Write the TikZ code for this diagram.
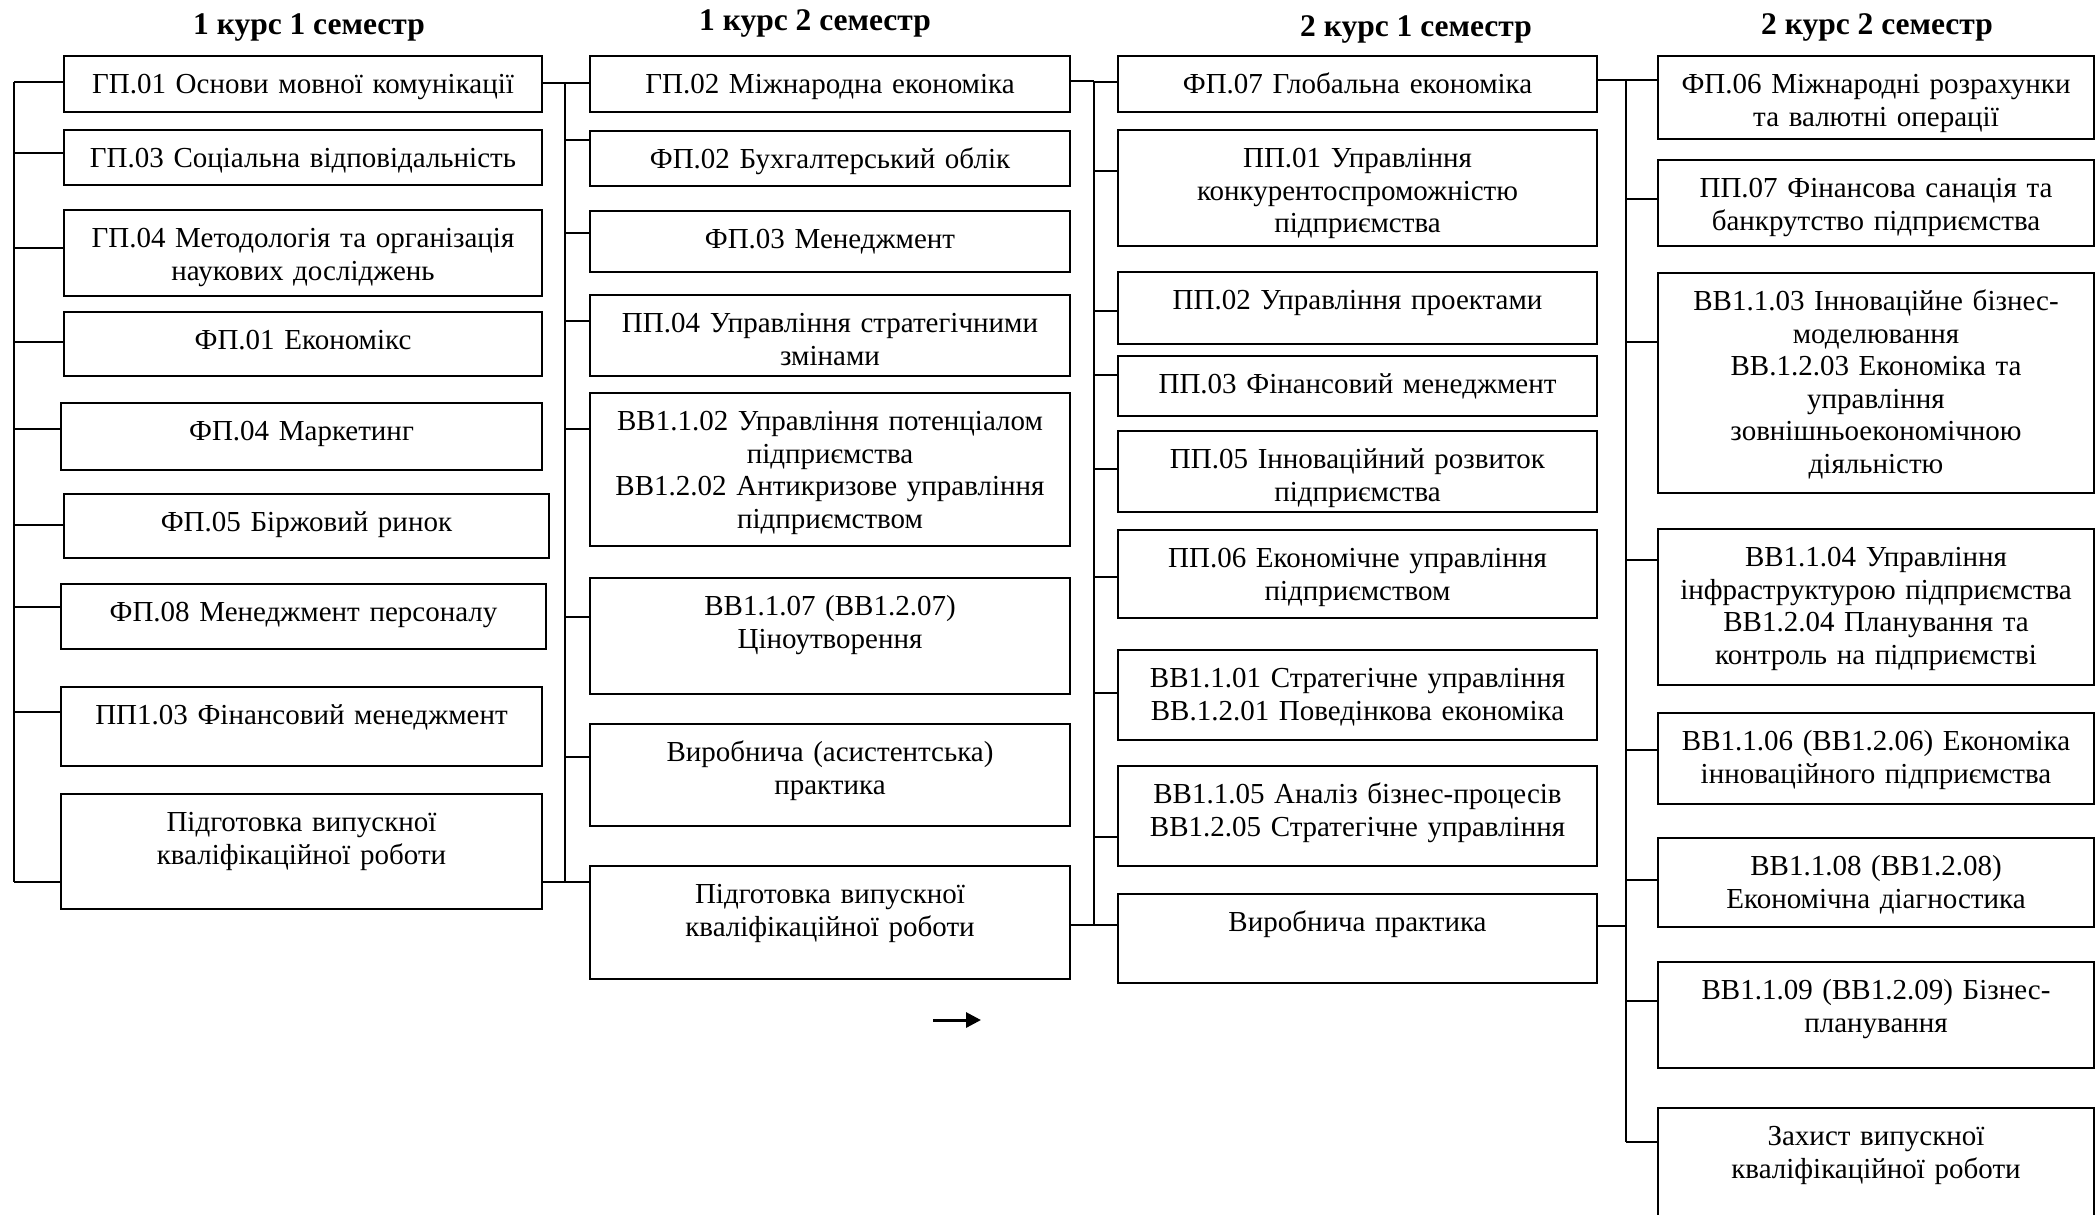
\documentclass[tikz,border=0pt]{standalone}
\usepackage{fontspec}
\setmainfont{Liberation Serif}
\usepackage{tikz}
\usetikzlibrary{arrows.meta}
\tikzset{
  subject box/.style 2 args={draw,line width=0.8pt,inner sep=0pt,anchor=north west,
    text width=#1*0.4pt,align=center,text height=15pt,text depth=#2*0.4pt-15pt,
    font=\fontsize{11.6}{13}\selectfont},
  sem title/.style={font=\fontsize{12.6}{14}\selectfont\bfseries},
  bus line/.style={line width=0.7pt},
}

\begin{document}
\begin{tikzpicture}[x=0.4pt,y=-0.4pt]
    \useasboundingbox (0,0) rectangle (2096,1214);
    \fill[white] (0,0) rectangle (2096,1214);

    % semesters
    \node[sem title] (t11) at (309,27) {1 курс 1 семестр};
    \node[sem title] (t12) at (815,23) {1 курс 2 семестр};
    \node[sem title] (t21) at (1416,29) {2 курс 1 семестр};
    \node[sem title] (t22) at (1877,27) {2 курс 2 семестр};

    % 1 kurs 1 semestr
    \node[subject box={478}{56}] (gp01) at (63,55) {ГП.01 Основи мовної комунікації};
    \node[subject box={478}{55}] (gp03) at (63,129) {ГП.03 Соціальна відповідальність};
    \node[subject box={478}{86}] (gp04) at (63,209) {ГП.04 Методологія та організація\\наукових досліджень};
    \node[subject box={478}{64}] (fp01) at (63,311) {ФП.01 Економікс};
    \node[subject box={481}{67}] (fp04) at (60,402) {ФП.04 Маркетинг};
    \node[subject box={485}{64}] (fp05) at (63,493) {ФП.05 Біржовий ринок};
    \node[subject box={485}{65}] (fp08) at (60,583) {ФП.08 Менеджмент персоналу};
    \node[subject box={481}{79}] (pp103) at (60,686) {ПП1.03 Фінансовий менеджмент};
    \node[subject box={481}{115}] (pidg1) at (60,793) {Підготовка випускної\\кваліфікаційної роботи};

    % 1 kurs 2 semestr
    \node[subject box={480}{56}] (gp02) at (589,55) {ГП.02 Міжнародна економіка};
    \node[subject box={480}{55}] (fp02) at (589,130) {ФП.02 Бухгалтерський облік};
    \node[subject box={480}{61}] (fp03) at (589,210) {ФП.03 Менеджмент};
    \node[subject box={480}{81}] (pp04) at (589,294) {ПП.04 Управління стратегічними\\змінами};
    \node[subject box={480}{153}] (vv102) at (589,392) {ВВ1.1.02 Управління потенціалом\\підприємства\\ВВ1.2.02 Антикризове управління\\підприємством};
    \node[subject box={480}{116}] (vv107) at (589,577) {ВВ1.1.07 (ВВ1.2.07)\\Ціноутворення};
    \node[subject box={480}{102}] (vyr2) at (589,723) {Виробнича (асистентська)\\практика};
    \node[subject box={480}{113}] (pidg2) at (589,865) {Підготовка випускної\\кваліфікаційної роботи};

    % 2 kurs 1 semestr
    \node[subject box={479}{56}] (fp07) at (1117,55) {ФП.07 Глобальна економіка};
    \node[subject box={479}{116}] (pp01) at (1117,129) {ПП.01 Управління\\конкурентоспроможністю\\підприємства};
    \node[subject box={479}{72}] (pp02) at (1117,271) {ПП.02 Управління проектами};
    \node[subject box={479}{60}] (pp03) at (1117,355) {ПП.03 Фінансовий менеджмент};
    \node[subject box={479}{81}] (pp05) at (1117,430) {ПП.05 Інноваційний розвиток\\підприємства};
    \node[subject box={479}{88}] (pp06) at (1117,529) {ПП.06 Економічне управління\\підприємством};
    \node[subject box={479}{90}] (vv101) at (1117,649) {ВВ1.1.01 Стратегічне управління\\ВВ.1.2.01 Поведінкова економіка};
    \node[subject box={479}{100}] (vv105) at (1117,765) {ВВ1.1.05 Аналіз бізнес-процесів\\ВВ1.2.05 Стратегічне управління};
    \node[subject box={479}{89}] (vyr3) at (1117,893) {Виробнича практика};

    % 2 kurs 2 semestr
    \node[subject box={436}{83}] (fp06) at (1657,55) {ФП.06 Міжнародні розрахунки\\та валютні операції};
    \node[subject box={436}{86}] (pp07) at (1657,159) {ПП.07 Фінансова санація та\\банкрутство підприємства};
    \node[subject box={436}{220}] (vv103) at (1657,272) {ВВ1.1.03 Інноваційне бізнес-\\моделювання\\ВВ.1.2.03 Економіка та\\управління\\зовнішньоекономічною\\діяльністю};
    \node[subject box={436}{156}] (vv104) at (1657,528) {ВВ1.1.04 Управління\\інфраструктурою підприємства\\ВВ1.2.04 Планування та\\контроль на підприємстві};
    \node[subject box={436}{91}] (vv106) at (1657,712) {ВВ1.1.06 (ВВ1.2.06) Економіка\\інноваційного підприємства};
    \node[subject box={436}{89}] (vv108) at (1657,837) {ВВ1.1.08 (ВВ1.2.08)\\Економічна діагностика};
    \node[subject box={436}{106}] (vv109) at (1657,961) {ВВ1.1.09 (ВВ1.2.09) Бізнес-\\планування};
    \node[subject box={436}{160}] (zakh) at (1657,1107) {Захист випускної\\кваліфікаційної роботи};

    % buses
    \coordinate (b1top) at (14,82);   \coordinate (b1bot) at (14,882);
    \coordinate (b2top) at (565,83);  \coordinate (b2bot) at (565,882);
    \coordinate (b3top) at (1094,81); \coordinate (b3bot) at (1094,925);
    \coordinate (b4top) at (1626,80); \coordinate (b4bot) at (1626,1142);
    \draw[bus line] (b1top) -- (b1bot);
    \draw[bus line] (b2top) -- (b2bot);
    \draw[bus line] (b3top) -- (b3bot);
    \draw[bus line] (b4top) -- (b4bot);

    \foreach \n/\y in {gp01/82,gp03/153,gp04/248,fp01/342,fp04/429,fp05/525,fp08/607,pp103/712,pidg1/882}
        \draw[bus line] (b1top |- 0,\y) -- (\n.west |- 0,\y);
    \foreach \n/\y in {gp02/83,fp02/140,fp03/233,pp04/321,vv102/429,vv107/617,vyr2/757,pidg2/882}
        \draw[bus line] (b2top |- 0,\y) -- (\n.west |- 0,\y);
    \foreach \n/\y in {fp07/82,pp01/171,pp02/311,pp03/375,pp05/469,pp06/577,vv101/693,vv105/837,vyr3/925}
        \draw[bus line] (b3top |- 0,\y) -- (\n.west |- 0,\y);
    \foreach \n/\y in {fp06/80,pp07/199,vv103/342,vv104/560,vv106/750,vv108/880,vv109/1001,zakh/1142}
        \draw[bus line] (b4top |- 0,\y) -- (\n.west |- 0,\y);

    % from one semester to the next
    \draw[bus line] (gp01.east |- b2top) -- (b2top);
    \draw[bus line] (pidg1.east |- b2bot) -- (b2bot);
    \draw[bus line] (gp02.east |- b3top) -- (b3top);
    \draw[bus line] (pidg2.east |- b3bot) -- (b3bot);
    \draw[bus line] (fp07.east |- b4top) -- (b4top);
    \draw[bus line] (vyr3.east |- 0,926) -- (b4top |- 0,926);

    \coordinate (arrS) at (933,1020);
    \coordinate (arrE) at (981,1020);
    \draw[line width=1.2pt,-{Triangle[length=6pt,width=6pt]}] (arrS) -- (arrE);
\end{tikzpicture}
\end{document}
